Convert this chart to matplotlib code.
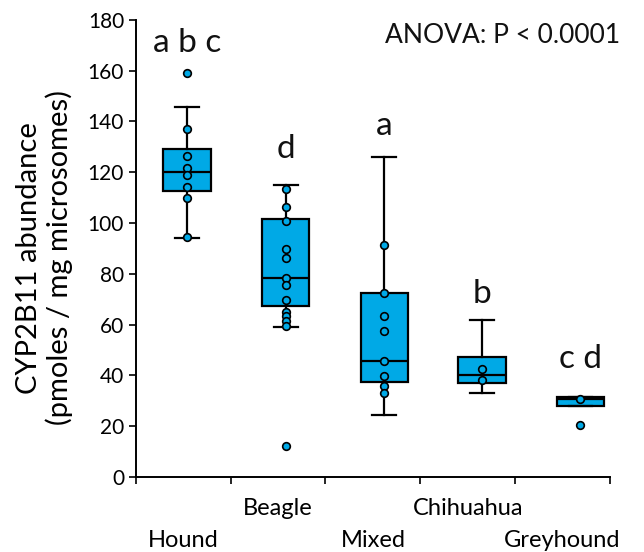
import matplotlib
matplotlib.use('Agg')
import matplotlib.pyplot as plt

plt.rcParams['font.family'] = ['Lato', 'DejaVu Sans']

# 品種と各群の値
breeds = ['Hound', 'Beagle', 'Mixed', 'Chihuahua', 'Greyhound']
hound = [159, 137, 126.4, 121.6, 119, 114, 110, 94.3]
beagle = [113.3, 106.2, 100.6, 89.8, 86.4, 78.5, 75.5, 69.7, 65.1, 63.4, 61.6, 59.6, 12.2]
mixed = [91.4, 72.6, 63.5, 57.6, 45.8, 39.9, 36.0, 33.2]
chihuahua = [42.4, 38.2]
greyhound = [30.7, 20.5]
points = [hound, beagle, mixed, chihuahua, greyhound]

# 箱ひげ図の統計量
q1 = [112.6, 67.5, 37.3, 37.1, 27.8]
med = [120.0, 78.5, 45.8, 40.3, 30.5]
q3 = [129.0, 101.6, 72.6, 47.3, 31.5]
whislo = [94.0, 59.0, 24.4, 33.1, 27.8]
whishi = [145.7, 115.0, 125.9, 61.7, 31.5]

# 有意差の文字 (ベースラインの高さ)
letters = ['a b c', 'd', 'a', 'b', 'c d']
letter_y = [167.5, 125.5, 134.7, 68.4, 43.0]

pos = [0.54, 1.58, 2.62, 3.65, 4.69]
blue = '#00a9e6'

fig = plt.figure(figsize=(6.44, 5.52), dpi=100)
ax = fig.add_axes([0.211, 0.136, 0.736, 0.828])

stats = []
for i in range(len(breeds)):
    stats.append({'q1': q1[i], 'med': med[i], 'q3': q3[i],
                  'whislo': whislo[i], 'whishi': whishi[i], 'fliers': []})

ax.bxp(stats, positions=pos, widths=0.5, capwidths=0.25, patch_artist=True,
       showfliers=False, manage_ticks=False,
       boxprops=dict(facecolor=blue, edgecolor='black', linewidth=1.6),
       medianprops=dict(color='black', linewidth=1.6),
       whiskerprops=dict(color='black', linewidth=1.6),
       capprops=dict(color='black', linewidth=1.6))

for p, vals in zip(pos, points):
    ax.plot([p] * len(vals), vals, 'o', markersize=5.5, markerfacecolor=blue,
            markeredgecolor='black', markeredgewidth=1.2, zorder=5)

for p, t, y in zip(pos, letters, letter_y):
    ax.text(p, y, t, ha='center', va='baseline', fontsize=24, color='#111111')

ax.text(1.022, 0.993, 'ANOVA: P < 0.0001', transform=ax.transAxes,
        ha='right', va='top', fontsize=19, color='#111111')

ax.set_xlim(0, 5)
ax.set_ylim(0, 180)
ax.set_yticks(range(0, 181, 20))
ax.set_xticks(range(0, 6))
ax.set_xticklabels([])
ax.tick_params(axis='y', labelsize=15, length=5, width=1.2)
ax.tick_params(axis='x', length=5, width=1.2)
for s in ['top', 'right']:
    ax.spines[s].set_visible(False)
for s in ['left', 'bottom']:
    ax.spines[s].set_linewidth(1.4)

# 品種名は2段に交互に配置
for i, b in enumerate(breeds):
    y = -0.07 if i % 2 == 1 else -0.138
    ax.text(i + 0.5, y * 180, b, ha='center', va='center', fontsize=17,
            clip_on=False)

ax.set_ylabel('CYP2B11 abundance\n(pmoles / mg microsomes)', fontsize=21,
              linespacing=1.15)
ax.yaxis.set_label_coords(-0.133, 0.479)

fig.savefig('out.png', dpi=100)
